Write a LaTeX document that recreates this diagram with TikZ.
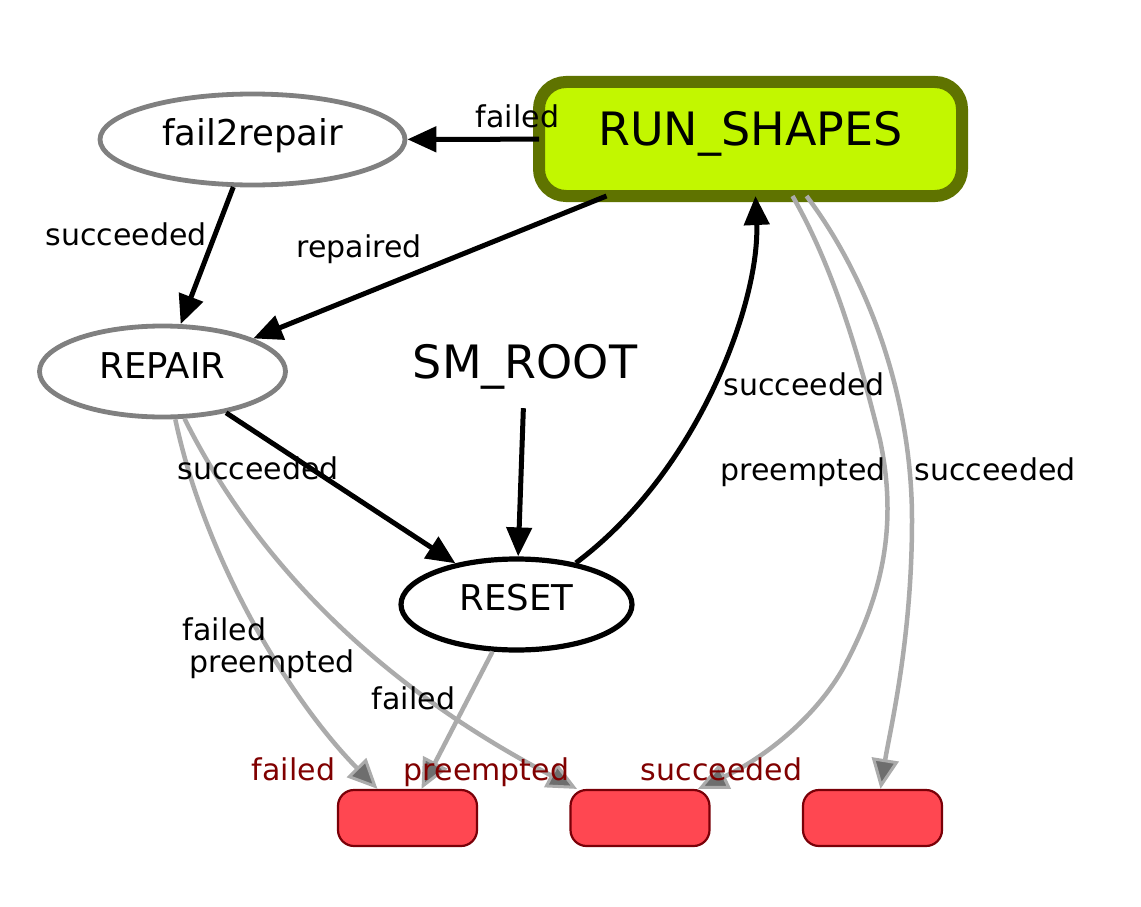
\documentclass[tikz,border=0pt]{standalone}
\usepackage{fontspec}
\setmainfont{DejaVu Sans}
\usetikzlibrary{arrows.meta,shapes.geometric}
\definecolor{runborder}{HTML}{5F7300}
\definecolor{runfill}{HTML}{C2F700}
\definecolor{stgray}{HTML}{808080}
\definecolor{edgegray}{HTML}{ABABAB}
\definecolor{tipgray}{HTML}{6E6E6E}
\definecolor{outfill}{HTML}{FF4751}
\definecolor{outborder}{HTML}{7A0008}
\definecolor{outtext}{HTML}{800000}
\begin{document}
\begin{tikzpicture}[x=1pt,y=-1pt,
  stateellipse/.style={ellipse, line width=4.8pt, inner sep=0pt, minimum height=91pt,
     font=\fontsize{35.5pt}{40pt}\selectfont},
  outbox/.style={rectangle, rounded corners=16pt, draw=outborder, fill=outfill,
     line width=2.2pt, minimum width=139pt, minimum height=56pt, inner sep=0pt},
  blk/.style={line width=5pt, -{Triangle[length=29pt,width=25pt]}},
  gry/.style={line width=4.5pt, draw=edgegray,
     -{Triangle[length=30pt,width=27pt,fill=tipgray,line width=3pt]}},
  lbl/.style={font=\fontsize{30pt}{34pt}\selectfont, inner sep=0pt, anchor=base},
  outlbl/.style={lbl, text=outtext}]
\useasboundingbox[fill=white] (0,0) rectangle (1141,907);

% states
\node[rectangle, rounded corners=27pt, draw=runborder, fill=runfill, line width=12pt,
  outer sep=0pt, inner sep=0pt, minimum width=423pt, minimum height=114pt,
  text height=34pt, text depth=22pt, font=\fontsize{46pt}{50pt}\selectfont]
  (run) at (750.5,139) {RUN\_SHAPES};
\node[stateellipse, draw=stgray, minimum width=305pt, text height=26pt, text depth=14pt]
  (f2r) at (252.5,139.5) {fail2repair};
\node[stateellipse, draw=stgray, minimum width=246pt, text height=27pt, text depth=13pt]
  (rep) at (162.5,371.5) {REPAIR};
\node[stateellipse, draw=black, line width=5.2pt, minimum width=231pt, text height=26pt, text depth=14pt]
  (reset) at (516.5,604.5) {RESET};
\node[anchor=base, inner xsep=0pt, inner ysep=30pt, text height=33pt, text depth=0pt,
  font=\fontsize{46pt}{50pt}\selectfont] (sm) at (525,378) {SM\_ROOT};

% outcomes
\node[outbox] (box1) at (407.5,818) {};
\node[outbox] (box2) at (640,818) {};
\node[outbox] (box3) at (872.5,818) {};

% black transitions
\draw[blk] (run) -- (f2r);
\draw[blk] ([xshift=-144pt]run.south) -- (rep.20);
\draw[blk] (f2r.-112) -- (rep.69);
\draw[blk] (rep.-33) -- (reset.146);
\draw[blk] (sm) -- (reset);
\draw[blk] (reset.35) .. controls (700,470) and (760,300) .. ([xshift=5pt]run.south);

% gray transitions to outcomes
\draw[gry] ([xshift=42pt]run.south) .. controls (835,270) and (860,360) .. (880,440)
   .. controls (897,520) and (885,590) .. (845,665)
   .. controls (815,720) and (760,760) .. ([xshift=58pt]box2.north);
\draw[gry] ([xshift=56pt]run.south) .. controls (870,280) and (912,400) .. (912,520)
   .. controls (912,640) and (890,730) .. ([xshift=8pt]box3.north);
\draw[gry] (rep.-75) .. controls (205,560) and (290,700) .. ([xshift=-30pt]box1.north);
\draw[gry] (rep.-65) .. controls (230,510) and (330,660) .. ([xshift=-63pt]box2.north);
\draw[gry] (reset.-117) -- ([xshift=14pt]box1.north);

% edge labels
\node[lbl] (l1) at (517.5,128) {failed};
\node[lbl] (l2) at (126,245) {succeeded};
\node[lbl] (l3) at (359,257) {repaired};
\node[lbl] (l4) at (258,479) {succeeded};
\node[lbl] (l5) at (804,395) {succeeded};
\node[lbl] (l6) at (803,480) {preempted};
\node[lbl] (l7) at (995,480) {succeeded};
\node[lbl] (l8) at (224.5,640) {failed};
\node[lbl] (l9) at (272,672) {preempted};
\node[lbl] (l10) at (413.5,709) {failed};

% outcome labels
\node[outlbl] (o1) at (293.5,780) {failed};
\node[outlbl] (o2) at (486.5,780) {preempted};
\node[outlbl] (o3) at (721.5,780) {succeeded};
\end{tikzpicture}
\end{document}
